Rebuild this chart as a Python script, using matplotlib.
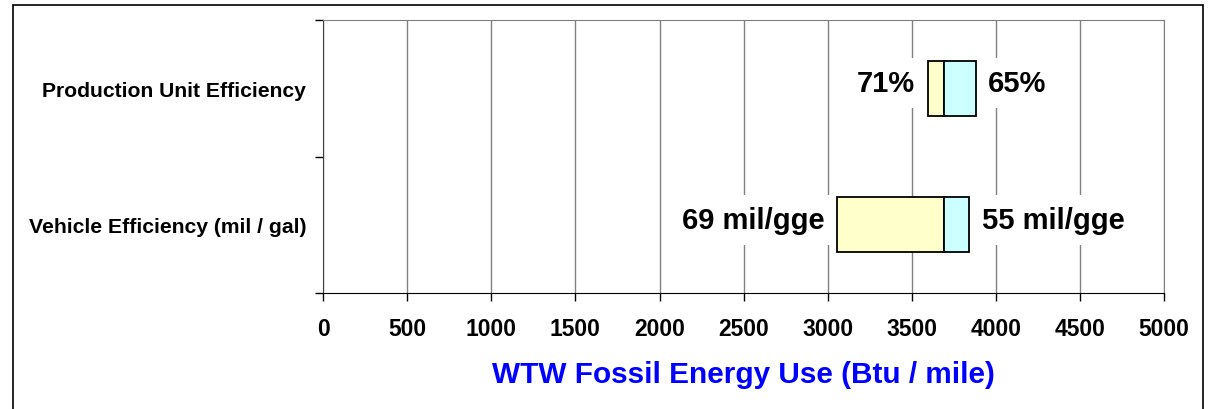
"""Tornado chart: WTW fossil energy use sensitivity."""

import matplotlib
matplotlib.use("Agg")
import matplotlib.pyplot as plt
from matplotlib.patches import Rectangle

plt.rcParams["font.family"] = ["Liberation Sans", "DejaVu Sans"]
plt.rcParams["font.weight"] = "bold"

# data (bottom to top)
categories = ["Vehicle Efficiency (mil / gal)", "Production Unit Efficiency"]
baseline = 3690
low_values = [3055, 3593]
high_values = [3841, 3880]
low_labels = ["69 mil/gge", "71%"]
high_labels = ["55 mil/gge", "65%"]
x_ticks = [0, 500, 1000, 1500, 2000, 2500, 3000, 3500, 4000, 4500, 5000]

LOW_COLOR = "#FFFFCC"
HIGH_COLOR = "#CCFFFF"

fig = plt.figure(figsize=(12.08, 4.10), dpi=100)
ax = fig.add_axes([0.2674, 0.2829, 0.6964, 0.6659])

# outer frame like the original slide box
fig.patches.append(Rectangle((13 / 1208, -0.1), (1203 - 13) / 1208, 1.1 - 6 / 410,
                             transform=fig.transFigure, fill=False,
                             edgecolor="black", linewidth=1.2))

ypos = list(range(len(categories)))
low_w = [baseline - v for v in low_values]
high_w = [v - baseline for v in high_values]
ax.barh(ypos, low_w, left=low_values, height=0.4, color=LOW_COLOR,
        edgecolor="black", linewidth=1.3, zorder=3)
ax.barh(ypos, high_w, left=baseline, height=0.4, color=HIGH_COLOR,
        edgecolor="black", linewidth=1.3, zorder=3)

box = dict(facecolor="white", edgecolor="none", pad=8)
for y, lo, hi, lt, ht in zip(ypos, low_values, high_values, low_labels, high_labels):
    ax.annotate(lt, (lo, y), xytext=(-9, 3.5), textcoords="offset points",
                ha="right", va="center", fontsize=21, fontweight="bold",
                bbox=box, zorder=4)
    ax.annotate(ht, (hi, y), xytext=(9, 3.5), textcoords="offset points",
                ha="left", va="center", fontsize=21, fontweight="bold",
                bbox=box, zorder=4)

ax.set_xlim(0, 5000)
ax.set_ylim(-0.5, len(categories) - 0.5)
ax.set_xticks(x_ticks)
ax.set_xticklabels([str(t) for t in x_ticks], fontsize=16.5, fontweight="bold")
ax.tick_params(axis="x", direction="out", length=6, width=1, pad=11)

ax.set_yticks([-0.5, 0.5, 1.5])
ax.set_yticklabels([])
ax.set_yticks(ypos, minor=True)
ax.set_yticklabels(categories, minor=True, fontsize=15.2, fontweight="bold")
ax.tick_params(axis="y", which="major", direction="out", length=6, width=1)
ax.tick_params(axis="y", which="minor", length=0, pad=12)

ax.xaxis.grid(True, color="#808080", linewidth=1, zorder=0)
ax.yaxis.grid(False)
ax.set_axisbelow(True)
ax.spines["top"].set_color("#808080")
ax.spines["right"].set_color("#808080")
ax.spines["left"].set_color("#404040")
ax.spines["bottom"].set_color("black")

ax.set_xlabel("WTW Fossil Energy Use (Btu / mile)", fontsize=21.4,
              fontweight="bold", color="#0000FF", labelpad=15)

fig.savefig("out.png", dpi=100)
